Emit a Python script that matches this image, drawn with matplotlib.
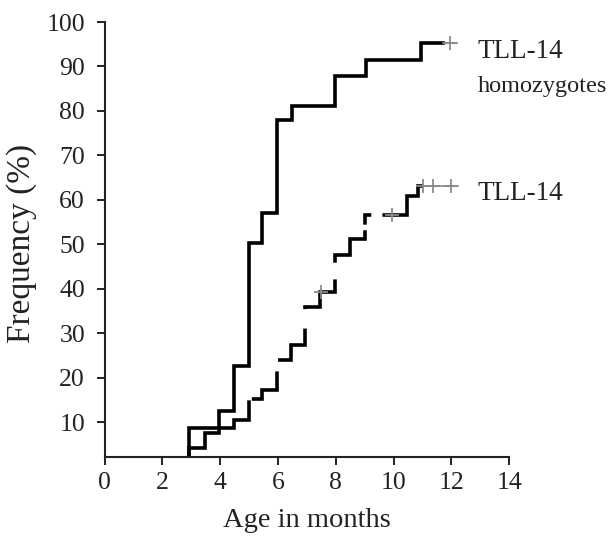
import matplotlib
matplotlib.use('Agg')
import matplotlib.pyplot as plt

# event times (months) and cumulative frequency (%) after each step
homo_months = [2.92, 3.97, 4.48, 5.01, 5.45, 5.98, 6.50, 7.98, 9.04, 10.95]
homo_freq = [8.75, 12.5, 22.6, 50.3, 57.1, 77.9, 81.2, 87.9, 91.4, 95.3]
homo_last_event_end = 11.72
homo_tail_end = 12.2
homo_censor = [11.95]

het_months = [2.92, 3.46, 3.97, 4.48, 5.01, 5.44, 5.98, 6.46, 6.94, 7.46, 7.96, 8.50, 9.02, 10.48, 10.86]
het_freq = [4.2, 7.5, 8.75, 10.6, 15.3, 17.2, 24.0, 27.4, 35.9, 39.4, 47.7, 51.2, 56.5, 60.9, 63.2]
het_last_event_end = 11.03
het_tail_end = 12.24
het_censor_months = [7.50, 9.94, 11.03, 11.38, 12.0]
het_censor_freq = [39.4, 56.5, 63.2, 63.2, 63.2]

xticks = [0, 2, 4, 6, 8, 10, 12, 14]
yticks = [10, 20, 30, 40, 50, 60, 70, 80, 90, 100]
y_bottom = 2.2

plt.rcParams['font.family'] = ['Liberation Serif', 'DejaVu Serif']
plt.rcParams['lines.scale_dashes'] = False

fig = plt.figure(figsize=(6.13, 5.37), dpi=100)
ax = fig.add_axes([0.1705, 0.149, 0.66, 0.81])

# solid curve: homozygotes
ax.step([homo_months[0]] + homo_months + [homo_last_event_end],
        [y_bottom] + homo_freq + [homo_freq[-1]],
        where='post', color='black', lw=2.6, solid_joinstyle='miter')
ax.plot([homo_last_event_end, homo_tail_end], [homo_freq[-1]] * 2, color='#8a8a8a', lw=1.2)
ax.plot(homo_censor, [homo_freq[-1]] * len(homo_censor), '+', color='#8a8a8a', ms=10, mew=1.3)

# broken curve: TLL-14
ax.step([het_months[0]] + het_months + [het_last_event_end],
        [y_bottom] + het_freq + [het_freq[-1]],
        where='post', color='black', lw=2.6,
        linestyle=(0, (84, 3, 38, 9, 42, 14, 43, 12, 45, 4, 11.5, 8, 300, 1)),
        dash_capstyle='butt', dash_joinstyle='miter')
ax.plot([het_last_event_end, het_tail_end], [het_freq[-1]] * 2, color='#8a8a8a', lw=1.2)
ax.plot(het_censor_months, het_censor_freq, '+', color='#8a8a8a', ms=10, mew=1.3)

ax.text(12.92, 93.4, 'TLL-14', fontsize=19.5, va='center', ha='left', color='#222222', clip_on=False)
ax.text(12.92, 85.5, 'homozygotes', fontsize=17.5, va='center', ha='left', color='#222222', clip_on=False)
ax.text(12.92, 61.4, 'TLL-14', fontsize=19.5, va='center', ha='left', color='#222222', clip_on=False)

ax.set_xlim(0, 14)
ax.set_ylim(y_bottom, 100)
ax.set_xticks(xticks)
ax.set_yticks(yticks)
ax.tick_params(axis='both', direction='out', length=6, width=1.4, labelsize=18.5, colors='#222222')
ax.tick_params(axis='y', pad=8)
ax.tick_params(axis='x', pad=5)
for side in ['top', 'right']:
    ax.spines[side].set_visible(False)
for side in ['left', 'bottom']:
    ax.spines[side].set_linewidth(1.5)
    ax.spines[side].set_color('#222222')

ax.set_xlabel('Age in months', fontsize=20.5, color='#222222')
ax.xaxis.set_label_coords(0.5, -0.118)
ax.set_ylabel('Frequency (%)', fontsize=24, color='#222222', va='center')
ax.yaxis.set_label_coords(-0.205, 0.49)

fig.savefig('out.png', dpi=100)
